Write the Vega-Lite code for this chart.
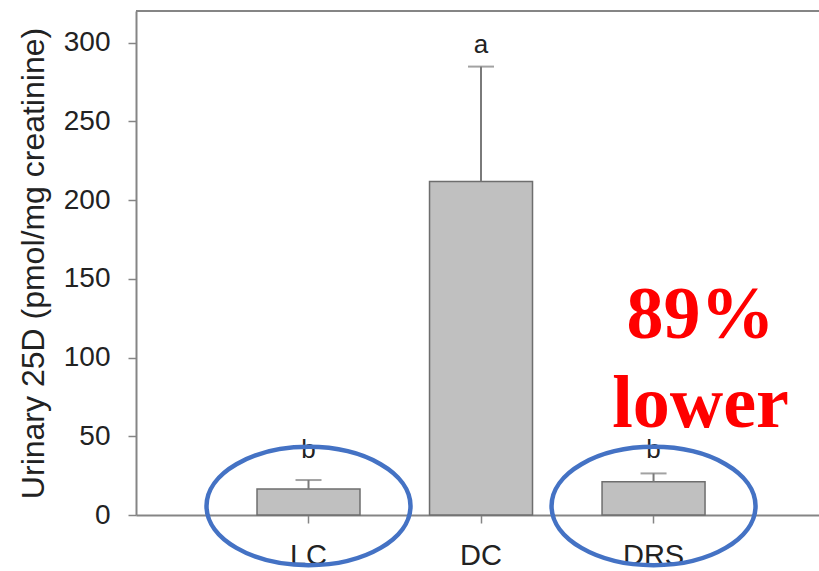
{
  "$schema": "https://vega.github.io/schema/vega-lite/v6.json",
  "width": 683,
  "height": 504,
  "autosize": {"type": "none"},
  "padding": {"left": 136, "top": 11, "right": 0, "bottom": 56},
  "background": "white",
  "config": {
    "view": {"stroke": null},
    "axis": {
      "grid": false,
      "domainColor": "#858585",
      "domainWidth": 2,
      "tickColor": "#858585",
      "tickWidth": 1.5,
      "tickSize": 8,
      "labelColor": "#222222",
      "labelFont": "Liberation Sans",
      "titleFont": "Liberation Sans",
      "titleColor": "#222222",
      "titleFontWeight": "normal"
    }
  },
  "datasets": {
    "groups": [
      {"group": "LC", "mean": 16.5, "upper": 22.2, "letter": "b", "letter_y": 36.2},
      {"group": "DC", "mean": 211.8, "upper": 284.7, "letter": "a", "letter_y": 293.3},
      {"group": "DRS", "mean": 21.1, "upper": 26.4, "letter": "b", "letter_y": 36.2}
    ],
    "circled": [
      {"group": "LC", "center": 5.7},
      {"group": "DRS", "center": 5.7}
    ]
  },
  "encoding": {
    "x": {
      "field": "group",
      "type": "nominal",
      "sort": ["LC", "DC", "DRS"],
      "scale": {"type": "band", "paddingInner": 0.403, "paddingOuter": 0.681, "align": 0.515},
      "axis": {"title": null, "labelAngle": 0, "labelFontSize": 29, "labelPadding": 18}
    }
  },
  "layer": [
    {
      "data": {"name": "groups"},
      "mark": {"type": "bar", "fill": "#c0c0c0", "stroke": "#6e6e6e", "strokeWidth": 1.5},
      "encoding": {
        "y": {
          "field": "mean",
          "type": "quantitative",
          "scale": {"domain": [0, 320], "nice": false},
          "axis": {
            "values": [0, 50, 100, 150, 200, 250, 300],
            "title": "Urinary 25D (pmol/mg creatinine)",
            "titleFontSize": 32,
            "titlePadding": 13,
            "labelFontSize": 28,
            "labelPadding": 18
          }
        }
      }
    },
    {
      "data": {"name": "groups"},
      "mark": {"type": "rule", "stroke": "#7a7a7a", "strokeWidth": 2},
      "encoding": {
        "y": {"field": "mean", "type": "quantitative"},
        "y2": {"field": "upper"}
      }
    },
    {
      "data": {"name": "groups"},
      "mark": {"type": "tick", "orient": "horizontal", "size": 26, "thickness": 2, "color": "#7a7a7a"},
      "encoding": {
        "y": {"field": "upper", "type": "quantitative"}
      }
    },
    {
      "data": {"name": "groups"},
      "mark": {"type": "text", "font": "Liberation Sans", "fontSize": 26, "color": "#222222", "baseline": "alphabetic"},
      "encoding": {
        "y": {"field": "letter_y", "type": "quantitative"},
        "text": {"field": "letter"}
      }
    },
    {
      "data": {"name": "circled"},
      "mark": {
        "type": "point",
        "shape": "M-1,0A1,0.58,0,1,1,1,0A1,0.58,0,1,1,-1,0Z",
        "size": 41616,
        "filled": false,
        "stroke": "#4472c4",
        "strokeWidth": 4.5,
        "opacity": 1
      },
      "encoding": {
        "y": {"field": "center", "type": "quantitative"}
      }
    },
    {
      "data": {"values": [{}]},
      "mark": {"type": "rule", "stroke": "#858585", "strokeWidth": 2},
      "encoding": {"y": {"datum": 320}, "x": null}
    },
    {
      "data": {"values": [{"note": ["89%", "lower"]}]},
      "mark": {
        "type": "text",
        "font": "Liberation Serif",
        "fontWeight": "bold",
        "fontSize": 74,
        "color": "#ff0000",
        "baseline": "alphabetic",
        "lineHeight": 89,
        "dx": 47
      },
      "encoding": {
        "x": {"datum": "DRS"},
        "y": {"datum": 112.4},
        "text": {"field": "note"}
      }
    }
  ]
}
